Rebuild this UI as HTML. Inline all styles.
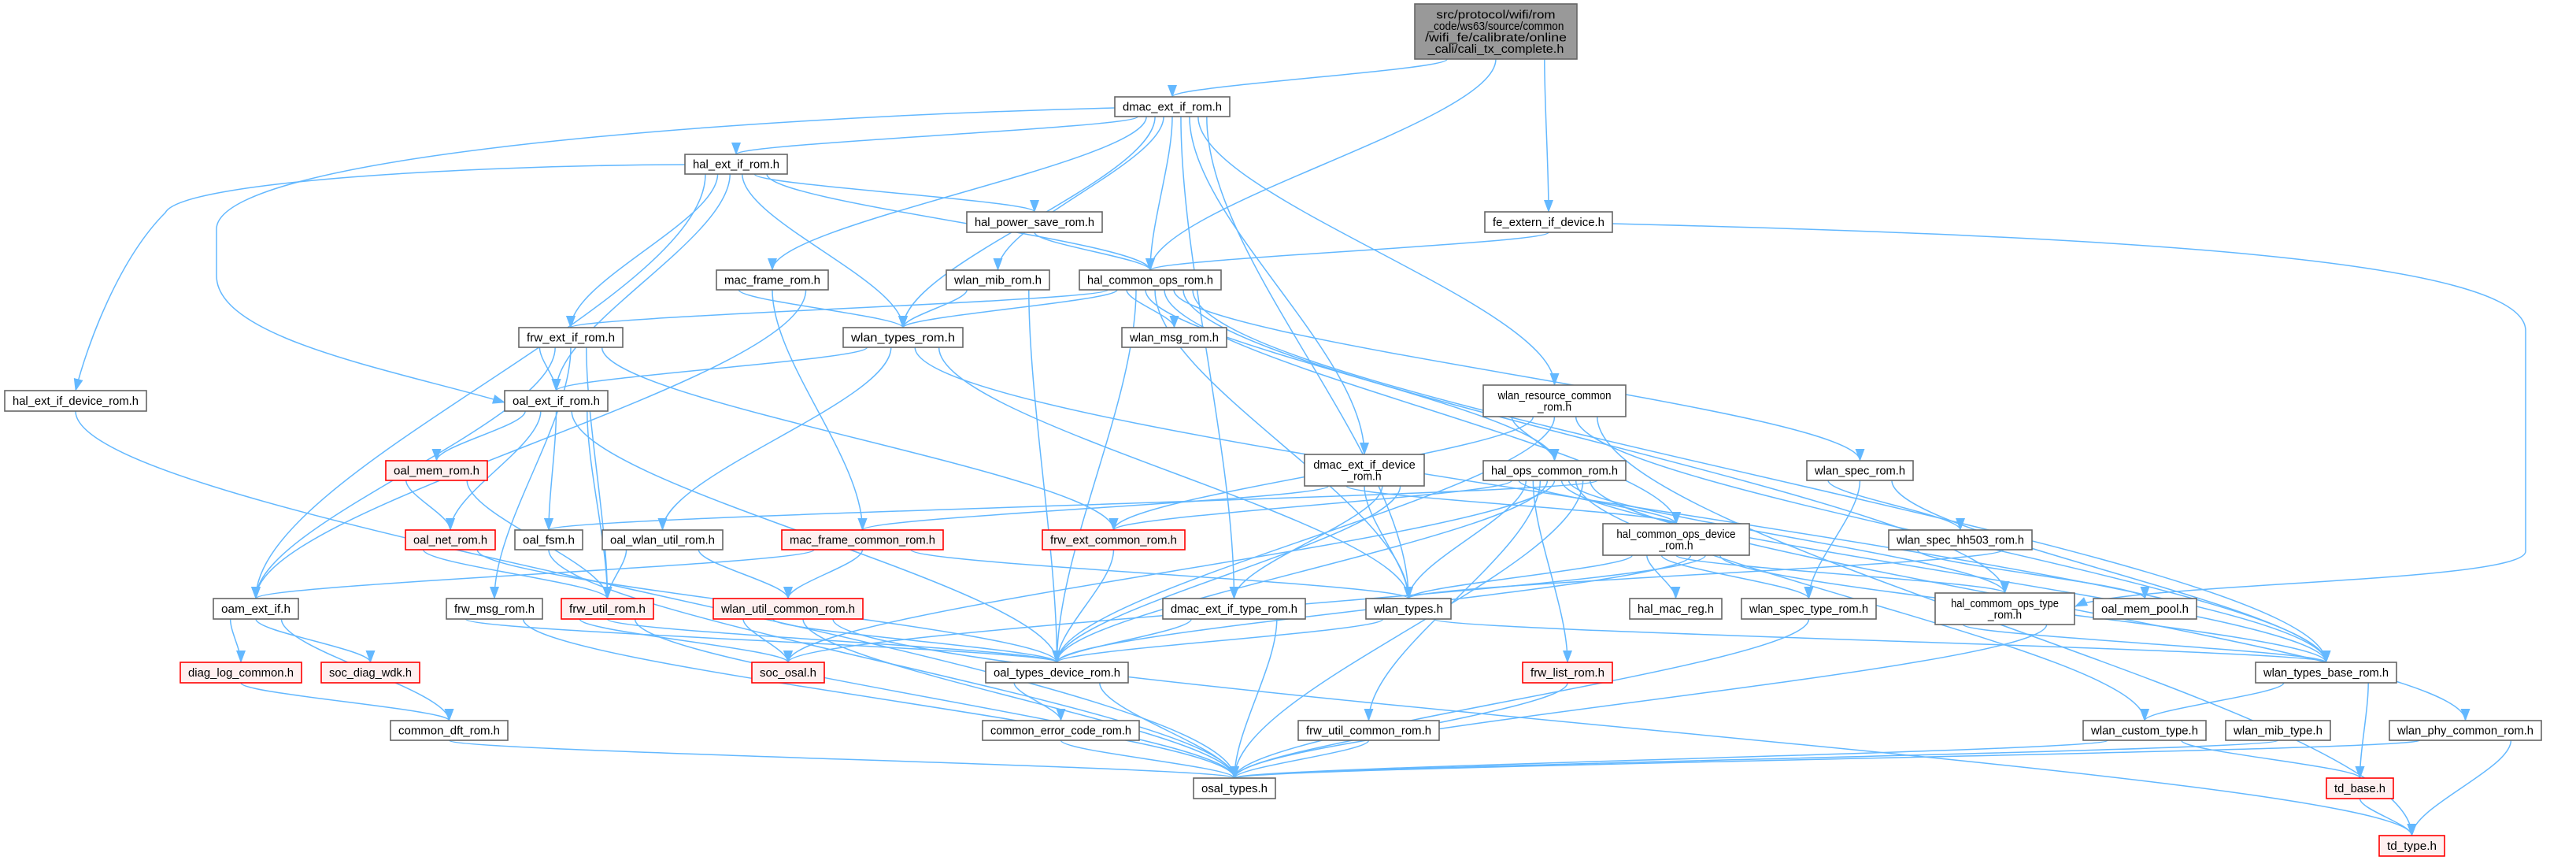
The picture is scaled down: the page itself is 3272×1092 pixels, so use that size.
<!DOCTYPE html>
<html><head><meta charset="utf-8">
<style>
html,body{margin:0;padding:0;background:#fff;}
svg{display:block;}
text{font-family:"Liberation Sans",sans-serif;font-size:15px;fill:#000;}
</style></head>
<body>
<svg id="g" xmlns="http://www.w3.org/2000/svg" width="3272" height="1092" viewBox="0 0 3272 1092">
<defs>
<marker id="a" markerWidth="16" markerHeight="12" refX="15" refY="6" orient="auto" markerUnits="userSpaceOnUse">
<path d="M0,0 L16,6 L0,12 z" fill="#63b8ff"/>
</marker>
</defs>
<g id="edges" fill="none" stroke="#63b8ff" stroke-width="1.5"></g>
<g id="nodes"></g>
</svg>
<script>
var N={
T:[1797,5,2003,75,["src/protocol/wifi/rom","_code/ws63/source/common","/wifi_fe/calibrate/online","_cali/cali_tx_complete.h"],2],
dmac:[1416,123,1562,148,["dmac_ext_if_rom.h"]],
halext:[870,196,1000,221,["hal_ext_if_rom.h"]],
hps:[1228,269,1400,295,["hal_power_save_rom.h"]],
fe:[1886,269,2048,295,["fe_extern_if_device.h"]],
macf:[910,343,1052,368,["mac_frame_rom.h"]],
mib:[1202,343,1333,368,["wlan_mib_rom.h"]],
hco:[1371,343,1551,368,["hal_common_ops_rom.h"]],
frwext:[659,416,791,441,["frw_ext_if_rom.h"]],
wtr:[1071,416,1223,441,["wlan_types_rom.h"]],
msg:[1425,416,1558,441,["wlan_msg_rom.h"]],
halextdev:[6,496,186,522,["hal_ext_if_device_rom.h"]],
oalext:[641,496,772,522,["oal_ext_if_rom.h"]],
wrc:[1884,489,2065,529,["wlan_resource_common","_rom.h"]],
ded:[1657,577,1809,617,["dmac_ext_if_device","_rom.h"]],
hoc:[1884,585,2065,610,["hal_ops_common_rom.h"]],
spec:[2295,585,2430,610,["wlan_spec_rom.h"]],
oalmem:[490,585,619,610,["oal_mem_rom.h"],1],
oalnet:[515,673,629,698,["oal_net_rom.h"],1],
fsm:[654,673,740,698,["oal_fsm.h"]],
owu:[765,673,918,698,["oal_wlan_util_rom.h"]],
mfc:[993,673,1198,698,["mac_frame_common_rom.h"],1],
fec:[1324,673,1505,698,["frw_ext_common_rom.h"],1],
hcod:[2036,665,2222,705,["hal_common_ops_device","_rom.h"]],
hh503:[2399,673,2581,698,["wlan_spec_hh503_rom.h"]],
oam:[271,760,379,786,["oam_ext_if.h"]],
fmsg:[567,760,689,786,["frw_msg_rom.h"]],
futil:[713,760,830,786,["frw_util_rom.h"],1],
wuc:[906,760,1096,786,["wlan_util_common_rom.h"],1],
det:[1477,760,1658,786,["dmac_ext_if_type_rom.h"]],
wt:[1735,760,1843,786,["wlan_types.h"]],
mac:[2070,760,2187,786,["hal_mac_reg.h"]],
wst:[2212,760,2383,786,["wlan_spec_type_rom.h"]],
hcot:[2458,753,2635,793,["hal_commom_ops_type","_rom.h"]],
pool:[2659,760,2790,786,["oal_mem_pool.h"]],
diag:[229,841,383,867,["diag_log_common.h"],1],
wdk:[408,841,533,867,["soc_diag_wdk.h"],1],
sosal:[955,841,1047,867,["soc_osal.h"],1],
otd:[1252,841,1433,867,["oal_types_device_rom.h"]],
flist:[1934,841,2048,867,["frw_list_rom.h"],1],
wtb:[2865,841,3044,867,["wlan_types_base_rom.h"]],
dft:[496,915,645,940,["common_dft_rom.h"]],
cec:[1248,915,1447,940,["common_error_code_rom.h"]],
fuc:[1649,915,1828,940,["frw_util_common_rom.h"]],
wct:[2646,915,2802,940,["wlan_custom_type.h"]],
wmt:[2827,915,2960,940,["wlan_mib_type.h"]],
wpc:[3035,915,3228,940,["wlan_phy_common_rom.h"]],
osal:[1516,988,1620,1014,["osal_types.h"]],
tdb:[2955,988,3040,1014,["td_base.h"],1],
tdt:[3022,1061,3105,1087,["td_type.h"],1]
};
var E={
T:["dmac","hco","fe"],
dmac:["halext","macf","wtr","mib","hco","det","ded","wrc","wt"],
halext:["oam","frwext","oalext","wtr","hps","hco"],
hps:["hco"],
fe:["hco"],
macf:["wtr","mfc","oam"],
mib:["wtr","otd"],
hco:["frwext","wtr","msg","otd","hoc","wt","hcod","spec","hcot","wtb"],
frwext:["oalext","oam","fmsg","futil","fec"],
wtr:["oalext","owu","wtb","wt"],
halextdev:["osal"],
oalext:["oalmem","oalnet","fsm","otd","futil"],
wrc:["hoc","fec","otd","wtb","tdt"],
ded:["mfc","hcod","wt","det","otd"],
hoc:["fec","hcod","wt","flist","fuc","otd","sosal","wtb","hcot","wct","osal","wpc","fsm"],
spec:["hh503","wst","wtb"],
oalmem:["oalnet","futil"],
oalnet:["futil","otd"],
fsm:["osal"],
owu:["futil","wuc"],
mfc:["oam","wuc","wt"],
fec:["otd"],
hcod:["wt","mac","wst","hcot","otd","sosal","wtb"],
hh503:["pool","wt"],
oam:["diag","wdk","dft"],
fmsg:["otd","osal"],
futil:["sosal","otd","osal"],
wuc:["sosal","otd","osal","tdt"],
det:["otd","osal"],
wt:["otd","wtb"],
wst:["osal"],
hcot:["wtb","osal"],
diag:["dft"],
otd:["cec","osal"],
flist:["osal"],
wtb:["wct","tdb"],
dft:["osal"],
cec:["osal"],
fuc:["osal"],
wct:["osal","tdb"],
wmt:["osal"],
wpc:["osal","tdt"],
tdb:["tdt"]
};
var NS="http://www.w3.org/2000/svg";
var eg=document.getElementById("edges"),ng=document.getElementById("nodes");
function el(t,a,p){var e=document.createElementNS(NS,t);for(var k in a)e.setAttribute(k,a[k]);p.appendChild(e);return e;}
/* custom long routes */
["M2048,284 C2700,300 3208,330 3208,420 L3208,700 C3208,740 2700,740 2636,770",
 "M1416,137 C900,150 280,200 275,290 L275,350 C275,430 500,470 641,511",
 "M870,209 C600,210 230,230 210,270 C150,330 110,440 96,496"
].forEach(function(d){el("path",{d:d,"marker-end":"url(#a)"},eg);});
for(var s in E){var A=N[s];E[s].forEach(function(t,i){var B=N[t];
 var n=E[s].length;var sx=(A[0]+A[2])/2+(n>1?((i/(n-1))-0.5)*(A[2]-A[0])*0.6:0);
 var sy=A[3],tx=(B[0]+B[2])/2,ty=B[1];
 var dy=(ty-sy)*0.3;
 var d="M"+sx+","+sy+" C"+sx+","+(sy+dy)+" "+tx+","+(ty-dy)+" "+tx+","+ty;
 el("path",{d:d,"marker-end":"url(#a)"},eg);
});}
for(var k in N){var v=N[k];var x=v[0],y=v[1],w=v[2]-v[0],h=v[3]-v[1];
 var fill="#ffffff",st="#666666";
 if(v[5]==1){fill="#fff0f0";st="#ff0000";}
 if(v[5]==2){fill="#999999";st="#666666";}
 el("rect",{x:x,y:y,width:w,height:h,fill:fill,stroke:st,"stroke-width":1.6},ng);
 var L=v[4],lh=14.5,y0=y+h/2-(L.length-1)*lh/2+5;
 L.forEach(function(s,i){var t=el("text",{x:x+w/2,y:y0+i*lh,"text-anchor":"middle"},ng);t.textContent=s;
  var tl=(L.length>1)?Math.min(w-22,s.length*7.2):(w-20);
  t.setAttribute("textLength",tl);t.setAttribute("lengthAdjust","spacingAndGlyphs");
 });
}
</script>
</body></html>
